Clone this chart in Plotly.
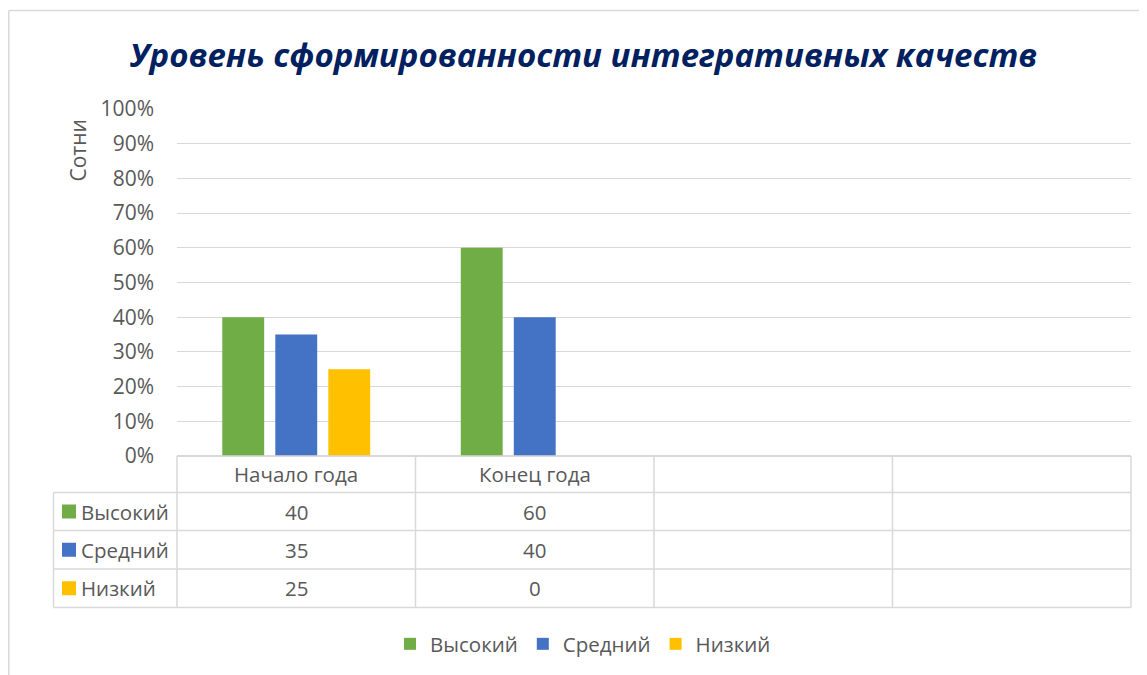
import plotly.graph_objects as go

# ---------------- data ----------------
categories = ["Начало года", "Конец года"]
slot_names = ["Начало года", "Конец года", "пусто1", "пусто2"]   # 4 category slots, 2 empty
series_names = ["Высокий", "Средний", "Низкий"]
vysokiy = [40, 60]
sredniy = [35, 40]
nizkiy = [25, 0]
series_values = [vysokiy, sredniy, nizkiy]
series_colors = ["#70AD47", "#4472C4", "#FFC000"]
y_tickvals = [0, 10, 20, 30, 40, 50, 60, 70, 80, 90, 100]
y_ticktext = ["0%", "10%", "20%", "30%", "40%", "50%", "60%", "70%", "80%", "90%", "100%"]
title_text = "Уровень сформированности интегративных качеств"
axis_title = "Сотни"

# ---------------- layout geometry ----------------
OFF = 8                      # page body margin in the browser
W, H = 1147 - OFF, 675 - OFF
SL, SR, ST, SB = 177, 1131, 109, 456   # plot area on screen
L, R, T, B = SL - OFF, W - (SR - OFF), ST - OFF, H - (SB - OFF)
PW, PH = W - L - R, H - T - B


def xp(sx):
    return (sx - SL) / PW


def yp(sy):
    return (SB - sy) / PH


TXT = "#595959"
GRID = "#D9D9D9"
FONT = "Open Sans"
FS = 20.5

fig = go.Figure()
for name, vals, col in zip(series_names, series_values, series_colors):
    fig.add_trace(go.Bar(
        x=categories, y=vals, name=name,
        marker=dict(color=col, line=dict(width=0)),
    ))

# table geometry (screen pixels)
row_lines = [456, 492.5, 530.5, 569, 607.5]
col_lines_x = [-0.5, 0.5, 1.5, 2.5, 3.5]
hdr_left = 53.5

shapes = []
for i, ry in enumerate(row_lines):
    x_start = xp(hdr_left) if i > 0 else 0
    shapes.append(dict(type="line", xref="paper", yref="paper",
                       x0=x_start, x1=1, y0=yp(ry), y1=yp(ry),
                       line=dict(color=GRID, width=1.5)))
for cx in col_lines_x:
    xpaper = (cx + 0.5) / 4
    shapes.append(dict(type="line", xref="paper", yref="paper",
                       x0=xpaper, x1=xpaper, y0=yp(row_lines[0]), y1=yp(row_lines[-1]),
                       line=dict(color=GRID, width=1.5)))
shapes.append(dict(type="line", xref="paper", yref="paper",
                   x0=xp(hdr_left), x1=xp(hdr_left), y0=yp(row_lines[1]), y1=yp(row_lines[-1]),
                   line=dict(color=GRID, width=1.5)))
# outer chart border
shapes.append(dict(type="line", xref="paper", yref="paper",
                   x0=xp(8.8), x1=xp(8.8), y0=yp(10.5), y1=yp(700),
                   line=dict(color=GRID, width=1.5)))
shapes.append(dict(type="line", xref="paper", yref="paper",
                   x0=xp(8.8), x1=xp(1170), y0=yp(10.5), y1=yp(10.5),
                   line=dict(color=GRID, width=1.5)))

annotations = []
for c in categories:
    annotations.append(dict(x=c, xref="x", y=yp((row_lines[0] + row_lines[1]) / 2), yref="paper",
                            text=c, showarrow=False, xanchor="center", yanchor="middle",
                            font=dict(family=FONT, size=FS, color=TXT)))
for j, (name, vals, col) in enumerate(zip(series_names, series_values, series_colors)):
    cy = (row_lines[j + 1] + row_lines[j + 2]) / 2
    shapes.append(dict(type="rect", xref="paper", yref="paper",
                       x0=xp(62), x1=xp(76), y0=yp(cy - 7), y1=yp(cy + 7),
                       fillcolor=col, line=dict(width=0)))
    annotations.append(dict(x=xp(78.5), xref="paper", y=yp(cy), yref="paper",
                            text=name, showarrow=False, xanchor="left", yanchor="middle",
                            font=dict(family=FONT, size=FS, color=TXT)))
    for c, v in zip(categories, vals):
        annotations.append(dict(x=c, xref="x", y=yp(cy), yref="paper",
                                text=str(v), showarrow=False, xanchor="center", yanchor="middle",
                                font=dict(family=FONT, size=FS, color=TXT)))
annotations.append(dict(x=xp(77.5), xref="paper", y=yp(151), yref="paper",
                        text=axis_title, textangle=-90, showarrow=False,
                        xanchor="center", yanchor="middle",
                        font=dict(family=FONT, size=21, color=TXT)))

fig.update_layout(
    width=W, height=H,
    margin=dict(l=L, r=R, t=T, b=B, pad=0, autoexpand=False),
    paper_bgcolor="white", plot_bgcolor="white",
    title=dict(text=title_text, x=(583.5 - OFF) / W, xref="container", xanchor="center",
               y=1 - (55 - OFF) / H, yref="container", yanchor="middle",
               font=dict(family=FONT, size=33, color="#002060", weight="bold", style="italic")),
    barmode="group", bargap=0.333, bargroupgap=0.21,
    xaxis=dict(type="category", categoryorder="array", categoryarray=slot_names,
               range=[-0.5, 3.5], showticklabels=False, showgrid=False, zeroline=False,
               showline=False, ticks="", automargin=False),
    yaxis=dict(range=[0, 100], tickvals=y_tickvals, ticktext=y_ticktext,
               showgrid=True, gridcolor=GRID, gridwidth=1.3,
               zeroline=True, zerolinecolor=GRID, zerolinewidth=1.5,
               showline=False, ticks="", ticklabelstandoff=22, automargin=False,
               tickfont=dict(family=FONT, size=21, color=TXT)),
    legend=dict(orientation="h", x=xp(583), xref="paper", xanchor="center",
                y=yp(644), yref="paper", yanchor="middle",
                font=dict(family=FONT, size=FS, color=TXT), traceorder="normal"),
    shapes=shapes, annotations=annotations,
    showlegend=True,
)

fig.write_html("out.html")
